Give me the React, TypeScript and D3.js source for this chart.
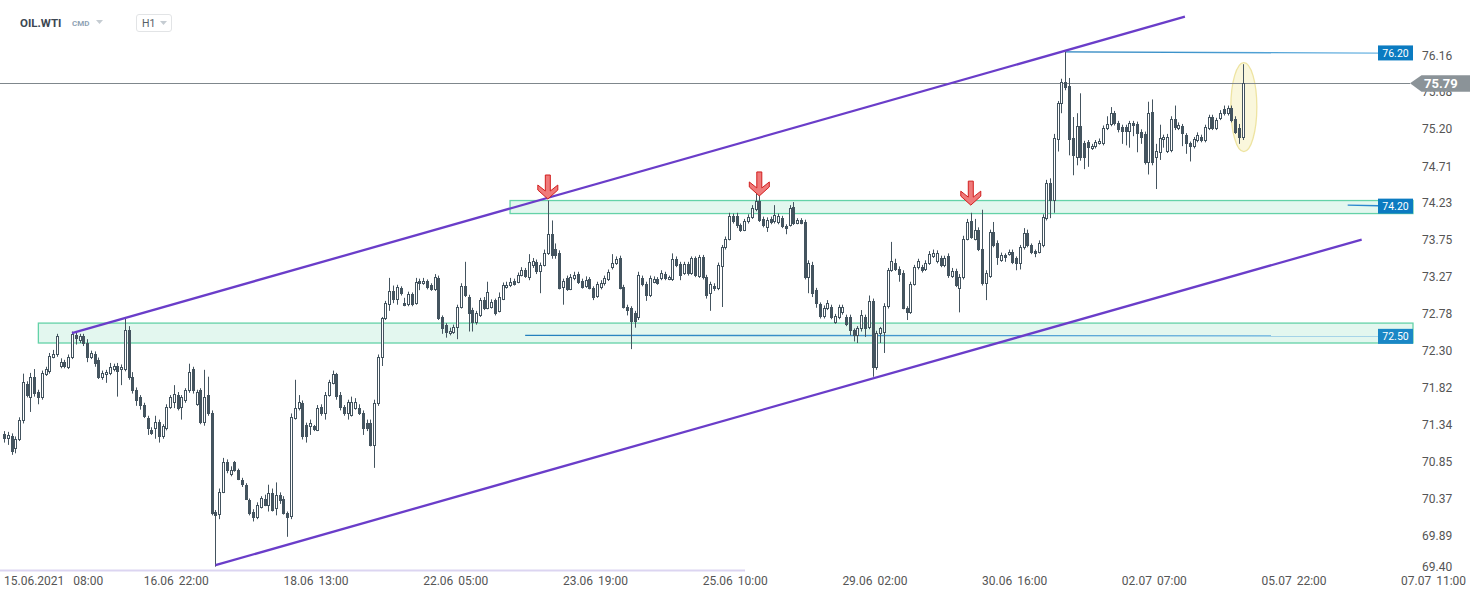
import React from 'react';
import * as d3 from 'd3';

const O = [
71.21,71.16,71.18,71.03,71.15,71.40,71.87,71.69,71.95,71.76,
71.69,72.00,72.04,72.22,72.25,72.10,72.15,72.09,72.22,72.51,
72.44,72.49,72.40,72.22,72.26,72.18,71.95,72.00,72.01,72.06,
72.10,72.06,72.06,72.57,71.96,71.79,71.70,71.59,71.42,71.27,
71.29,71.37,71.18,71.29,71.57,71.63,71.72,71.57,71.65,71.78,
72.06,71.61,71.78,71.37,71.72,71.49,70.20,70.17,70.46,70.85,
70.69,70.84,70.74,70.61,70.55,70.35,70.20,70.13,70.26,70.37,
70.29,70.44,70.25,70.41,70.37,70.18,70.14,71.42,71.55,71.62,
71.33,71.31,71.31,71.27,71.57,71.49,71.72,71.88,71.99,71.72,
71.57,71.49,71.46,71.55,71.55,71.49,71.36,71.36,71.07,71.62,
72.22,72.72,72.91,73.08,72.98,73.12,72.92,72.91,73.04,72.92,
73.21,73.18,73.21,73.16,73.11,73.25,72.74,72.64,72.53,72.55,
72.61,72.87,73.15,73.00,72.83,72.68,72.77,72.96,72.86,72.87,
72.96,72.82,72.98,73.13,73.16,73.21,73.20,73.29,73.35,73.26,
73.42,73.46,73.34,73.42,73.58,73.82,73.63,73.58,73.13,73.25,
73.11,73.25,73.30,73.21,73.15,73.24,73.12,73.02,73.13,73.18,
73.24,73.39,73.45,73.51,73.13,72.87,72.86,72.79,72.74,73.25,
73.17,73.03,73.20,73.24,73.25,73.30,73.24,73.24,73.50,73.43,
73.32,73.43,73.32,73.51,73.28,73.52,73.26,73.05,73.15,73.12,
73.41,73.65,73.76,74.06,74.06,73.94,73.88,73.99,74.05,74.15,
74.26,74.02,73.92,74.02,73.99,73.98,74.03,73.93,73.94,74.18,
73.97,74.01,73.98,73.26,73.42,73.09,72.91,72.75,72.86,72.87,
72.68,72.74,72.81,72.74,72.74,72.57,72.51,72.59,72.74,72.61,
72.95,72.09,72.53,72.55,72.88,73.35,73.45,73.37,73.32,72.86,
72.81,73.17,73.39,73.39,73.37,73.45,73.54,73.47,73.51,73.42,
73.54,73.28,73.34,73.12,73.26,73.76,73.99,73.76,73.88,73.63,
73.18,73.28,73.85,73.71,73.49,73.55,73.56,73.59,73.51,73.45,
73.65,73.84,73.68,73.60,73.59,73.68,74.03,74.49,74.27,75.06,
75.53,75.81,75.76,75.08,74.83,75.23,75.01,75.02,74.95,74.97,
75.01,75.01,75.21,75.26,75.40,75.27,75.22,75.22,75.17,75.27,
75.26,75.16,75.13,74.76,75.42,74.83,74.89,75.06,74.91,74.92,
75.33,75.21,75.23,75.12,75.01,74.97,75.05,75.09,75.05,75.21,
75.35,75.21,75.34,75.46,75.40,75.47,75.33,75.21,75.09
];

const H = [
71.25,71.24,71.22,71.18,71.43,72.00,71.90,72.01,72.06,71.79,
72.04,72.09,72.27,72.31,72.52,72.20,72.18,72.25,72.55,72.55,
72.52,72.52,72.45,72.30,72.29,72.21,72.04,72.05,72.14,72.13,
72.14,72.12,72.72,72.62,72.02,71.82,71.72,71.62,71.45,71.30,
71.45,71.40,71.34,71.60,71.72,71.85,71.76,71.72,71.81,72.13,
72.09,71.79,71.81,72.05,71.96,71.52,70.22,70.50,70.90,70.88,
70.79,70.86,70.76,70.64,70.57,70.37,70.23,70.32,70.40,70.42,
70.55,70.50,70.58,70.45,70.40,70.20,71.48,71.92,71.72,71.65,
71.36,71.40,71.33,71.59,71.60,71.76,71.92,72.04,72.01,71.76,
71.59,71.66,71.70,71.68,71.60,71.52,71.40,71.40,71.66,72.25,
72.74,72.95,73.25,73.15,73.16,73.14,72.99,73.07,73.06,73.25,
73.24,73.25,73.23,73.18,73.30,73.28,72.76,72.66,72.60,72.64,
72.90,73.18,73.46,73.03,72.86,72.82,72.99,73.00,73.20,72.97,
72.98,73.06,73.19,73.20,73.25,73.24,73.32,73.39,73.38,73.56,
73.51,73.49,73.45,73.62,74.26,74.00,73.70,73.61,73.24,73.28,
73.30,73.33,73.33,73.24,73.27,73.26,73.14,73.20,73.22,73.28,
73.36,73.56,73.53,73.54,73.16,72.90,72.88,72.82,73.33,73.28,
73.20,73.28,73.27,73.26,73.35,73.33,73.28,73.57,73.53,73.46,
73.46,73.46,73.53,73.53,73.55,73.55,73.29,73.20,73.18,73.45,
73.68,73.79,74.10,74.09,74.10,73.96,74.02,74.08,74.20,74.40,
74.45,74.05,74.04,74.05,74.20,74.09,74.06,73.95,74.20,74.24,
74.03,74.03,74.01,73.48,73.46,73.12,72.93,72.89,72.96,72.90,
72.78,72.90,72.90,72.77,72.77,72.59,72.62,72.83,72.77,73.02,
72.98,72.56,72.61,72.92,73.38,73.72,73.50,73.40,73.35,72.88,
73.20,73.42,73.50,73.42,73.48,73.60,73.62,73.61,73.54,73.54,
73.57,73.38,73.37,73.30,73.80,74.02,74.10,74.02,73.91,74.14,
73.35,73.88,73.98,73.74,73.58,73.57,73.62,73.62,73.53,73.68,
73.90,73.88,73.70,73.62,73.74,74.08,74.53,74.55,75.13,75.56,
75.85,76.20,75.86,75.35,75.40,75.66,75.04,75.05,75.00,75.05,
75.07,75.24,75.36,75.48,75.43,75.30,75.25,75.25,75.30,75.30,
75.29,75.19,75.16,75.55,75.58,75.00,75.25,75.12,75.13,75.36,
75.50,75.28,75.26,75.14,75.03,75.09,75.15,75.12,75.25,75.38,
75.38,75.34,75.44,75.50,75.50,75.50,75.36,75.26,76.04
];

const L = [
71.10,71.07,70.94,70.96,71.12,71.35,71.69,71.50,71.70,71.60,
71.66,71.97,72.00,72.20,72.22,72.07,72.07,72.06,72.19,72.38,
72.40,72.36,72.15,72.19,72.09,71.93,71.92,71.88,71.98,72.03,
71.70,71.85,72.03,71.92,71.74,71.58,71.53,71.42,71.20,71.20,
71.15,71.10,71.15,71.26,71.54,71.55,71.52,71.40,71.62,71.75,
71.74,71.58,71.34,71.32,71.45,70.15,69.48,70.10,70.44,70.70,
70.66,70.72,70.61,70.52,70.35,70.15,70.07,70.10,70.24,70.27,
70.20,70.20,70.15,70.30,70.16,69.87,70.10,71.40,71.52,71.14,
71.10,71.20,71.25,71.25,71.45,71.40,71.70,71.86,71.66,71.52,
71.45,71.40,71.44,71.53,71.46,71.20,71.25,71.05,70.77,71.58,
72.10,72.70,72.82,72.92,72.90,73.02,72.88,72.88,72.88,72.90,
73.09,73.16,73.10,73.08,73.08,72.70,72.52,72.47,72.50,72.52,
72.45,72.85,73.00,72.55,72.55,72.64,72.74,72.83,72.84,72.85,
72.76,72.80,72.96,73.11,73.13,73.15,73.18,73.27,73.25,73.22,
73.38,73.30,73.05,73.40,73.55,73.50,73.50,73.10,72.90,73.08,
73.09,73.22,73.17,73.11,73.12,73.10,72.96,72.99,73.10,73.15,
73.21,73.36,73.42,73.10,72.85,72.76,72.32,72.60,72.70,73.14,
72.95,73.00,73.18,73.16,73.22,73.22,73.22,73.21,73.39,73.22,
73.29,73.28,73.29,73.26,73.25,73.23,72.98,72.82,73.08,73.09,
72.87,73.62,73.74,73.96,73.90,73.85,73.86,73.96,74.02,74.12,
73.98,73.91,73.85,73.95,73.96,73.95,73.90,73.82,73.92,73.94,
73.95,73.95,73.23,73.05,73.00,72.86,72.72,72.72,72.83,72.71,
72.65,72.71,72.77,72.62,72.50,72.42,72.40,72.55,72.48,72.58,
71.96,72.05,72.40,72.27,72.85,73.33,73.34,73.20,72.84,72.70,
72.78,73.15,73.36,73.32,73.34,73.42,73.51,73.44,73.39,73.39,
73.25,73.25,73.13,72.80,73.23,73.74,73.76,73.74,73.60,73.15,
72.96,73.25,73.65,73.42,73.46,73.46,73.54,73.43,73.35,73.36,
73.62,73.65,73.56,73.52,73.57,73.65,74.00,74.03,74.10,74.90,
75.40,75.70,74.85,74.59,74.72,74.78,74.67,74.70,74.92,74.94,
74.99,74.98,75.18,75.23,75.24,75.15,75.00,74.98,74.95,75.10,
74.89,75.00,74.73,74.60,74.72,74.41,74.79,74.95,74.88,74.89,
75.18,75.18,74.97,74.87,74.77,74.94,75.02,75.02,75.02,75.18,
75.18,75.18,75.31,75.37,75.37,75.28,75.13,75.00,75.05
];

const C = [
71.16,71.20,70.99,71.15,71.40,71.89,71.72,71.95,71.75,71.69,
72.01,72.06,72.23,72.26,72.49,72.15,72.10,72.22,72.52,72.47,
72.49,72.40,72.22,72.27,72.14,71.96,72.01,72.02,72.09,72.10,
72.04,72.09,72.57,71.96,71.78,71.66,71.59,71.45,71.29,71.23,
71.37,71.18,71.31,71.57,71.69,71.74,71.55,71.69,71.78,72.02,
71.78,71.76,71.37,71.70,71.49,70.18,70.16,70.46,70.85,70.74,
70.74,70.74,70.63,70.56,70.37,70.18,70.13,70.29,70.38,70.29,
70.44,70.22,70.42,70.35,70.18,70.13,71.44,71.55,71.63,71.18,
71.18,71.36,71.28,71.55,71.49,71.72,71.89,71.99,71.71,71.57,
71.49,71.63,71.63,71.63,71.49,71.29,71.29,71.07,71.62,72.22,
72.72,72.92,73.08,72.98,73.13,73.05,72.90,73.04,72.91,73.20,
73.18,73.21,73.13,73.11,73.26,72.73,72.60,72.55,72.56,72.61,
72.87,73.15,73.03,72.79,72.68,72.79,72.96,72.86,73.07,72.94,
72.79,73.00,73.16,73.16,73.20,73.17,73.29,73.35,73.28,73.46,
73.47,73.34,73.42,73.58,73.82,73.55,73.55,73.12,73.21,73.11,
73.26,73.29,73.20,73.13,73.22,73.12,73.00,73.17,73.18,73.25,
73.33,73.45,73.50,73.12,72.87,72.83,72.69,72.69,73.29,73.17,
73.03,73.25,73.24,73.18,73.32,73.25,73.26,73.50,73.42,73.29,
73.43,73.32,73.51,73.29,73.52,73.26,73.03,73.17,73.12,73.42,
73.65,73.76,74.06,73.99,73.94,73.88,73.99,74.05,74.16,74.26,
74.01,73.94,74.01,73.98,74.07,74.06,73.93,73.90,74.16,73.97,
74.00,73.97,73.26,73.45,73.05,72.92,72.75,72.86,72.92,72.74,
72.75,72.87,72.87,72.65,72.57,72.51,72.59,72.77,72.60,72.95,
72.09,72.53,72.59,72.88,73.35,73.47,73.37,73.30,72.86,72.81,
73.17,73.39,73.47,73.35,73.45,73.56,73.58,73.58,73.42,73.51,
73.29,73.34,73.16,73.26,73.76,73.98,73.79,73.88,73.63,73.18,
73.32,73.85,73.68,73.52,73.55,73.52,73.59,73.46,73.45,73.65,
73.84,73.68,73.59,73.58,73.71,74.05,74.49,74.27,75.08,75.53,
75.81,75.74,75.06,74.86,75.23,74.83,74.83,74.96,74.97,75.02,
75.04,75.21,75.26,75.40,75.27,75.19,75.17,75.17,75.27,75.25,
75.14,75.09,74.76,75.40,74.76,74.91,75.08,75.09,75.09,75.33,
75.22,75.25,75.14,75.01,74.97,75.06,75.12,75.05,75.22,75.35,
75.21,75.31,75.40,75.40,75.47,75.31,75.16,75.09,75.79
];

const timeLabels = ['15.06.2021 08:00', '16.06 22:00', '18.06 13:00', '22.06 05:00', '23.06 19:00',
  '25.06 10:00', '29.06 02:00', '30.06 16:00', '02.07 07:00', '05.07 22:00'];
const timeLabelIdx = [0, 37, 74, 111, 148, 185, 222, 259, 296, 333];
const endLabel = '07.07 11:00';

const priceTicks = [76.16, 75.68, 75.20, 74.71, 74.23, 73.75, 73.27, 72.78, 72.30, 71.82, 71.34, 70.85, 70.37, 69.89, 69.40];

// support/resistance zones: top, bottom, start candle index
const zoneTop = [74.26, 72.66];
const zoneBottom = [74.09, 72.40];
const zoneStart = [134, 9.1];

// level lines with tags: price, start index
const levelPrice = [76.20, 74.20, 72.50];
const levelStart = [281, 355.8, 138];

// channel lines: [index, price]
const upperChannel = [[18, 72.53], [312.7, 76.66]];
const lowerChannel = [[56, 69.50], [359.5, 73.75]];

const arrowIdx = [144, 200, 256];
const arrowTip = [74.28, 74.32, 74.20];

const lastPrice = 75.79;
const highlight = { idx: 328.3, price: 75.48 };

const FONT = 'Roboto, Arial, sans-serif';
const DARK = '#44545f';

export default function App() {
  const n = C.length;
  const x = d3.scaleLinear().domain([0, n - 1]).range([4, 1242.7]);
  const y = d3.scaleLinear().domain([69.40, 76.16]).range([572.8, 55]);
  const plotRight = 1413;

  const line = d3.line<number[]>().x(d => x(d[0])).y(d => y(d[1]));

  const candles = C.map((c, i) => {
    const o = O[i];
    const up = c >= o;
    const cx = Math.round(x(i)) + 0.5;
    const top = Math.round(y(Math.max(o, c))) + 0.5;
    const bot = Math.round(y(Math.min(o, c))) + 0.5;
    const h = Math.max(bot - top, 1);
    return (
      <g key={i}>
        <line x1={cx} x2={cx} y1={y(H[i])} y2={y(L[i])} stroke={DARK} strokeWidth={1} />
        <rect x={cx - 1} y={top} width={2} height={h} fill={up ? '#ffffff' : DARK} stroke={DARK} strokeWidth={1} />
      </g>
    );
  });

  const arrowPath = (tx: number, ty: number) => {
    const pts = [[0, 0], [-10, -9], [-10, -14], [-2.5, -8], [-2.5, -24], [2.5, -24], [2.5, -8], [10, -14], [10, -9]];
    return pts.map(p => `${tx + p[0]},${ty + p[1]}`).join(' ');
  };

  const yLast = y(lastPrice);

  return (
    <svg width={1482} height={598} style={{ position: 'absolute', left: 0, top: 0, background: '#fff' }} fontFamily={FONT}>
      <defs>
        <linearGradient id="lvlGrad" x1="0" x2="1" y1="0" y2="0">
          <stop offset="0%" stopColor="#2380bd" />
          <stop offset="100%" stopColor="#6cb5e3" />
        </linearGradient>
      </defs>
      <rect x={0} y={0} width={1482} height={598} fill="#ffffff" />

      {/* header */}
      <text x={20} y={27} fontSize={11.5} fontWeight={700} fill="#3c4752">OIL.WTI</text>
      <text x={72} y={26} fontSize={8} fontWeight={700} fill="#8fa3b5">CMD</text>
      <polygon points="96,20 103,20 99.5,24" fill="#c5ccd2" />
      <rect x={136.5} y={14.5} width={35} height={17} rx={2.5} fill="#fff" stroke="#e2e4e6" />
      <text x={142} y={26.5} fontSize={10.5} fill="#555e66">H1</text>
      <polygon points="160,21 167,21 163.5,25" fill="#c5ccd2" />

      {/* zones */}
      {zoneTop.map((t, i) => (
        <rect key={i} x={x(zoneStart[i])} y={y(t)} width={plotRight - x(zoneStart[i])} height={y(zoneBottom[i]) - y(t)}
          fill="#e3f7ef" stroke="#64d2a8" strokeWidth={1.3} />
      ))}

      {/* highlight ellipse */}
      <ellipse cx={x(highlight.idx)} cy={y(highlight.price)} rx={13} ry={44.5} fill="#faf7dc" stroke="#eee4a2" strokeWidth={1.3} />

      {/* last price line */}
      <line x1={0} x2={1410} y1={Math.round(yLast) + 0.5} y2={Math.round(yLast) + 0.5} stroke="#7f878c" strokeWidth={1} />

      {/* level lines */}
      {levelPrice.map((p, i) => (
        <line key={i} x1={x(levelStart[i])} x2={1378} y1={y(p)} y2={y(p) + (i === 0 ? 1.2 : 0.6)}
          stroke={i === 1 ? '#2a88cf' : 'url(#lvlGrad)'} strokeWidth={1.3} />
      ))}

      {/* candles */}
      {candles}

      {/* channel */}
      <path d={line(upperChannel) || ''} stroke="#6a3dc9" strokeWidth={2.3} fill="none" />
      <path d={line(lowerChannel) || ''} stroke="#6a3dc9" strokeWidth={2.3} fill="none" />

      {/* arrows */}
      {arrowIdx.map((a, i) => (
        <polygon key={i} points={arrowPath(x(a), y(arrowTip[i]))} fill="#ef7a7a" stroke="#d21f1f" strokeWidth={1} />
      ))}

      {/* price axis labels */}
      {priceTicks.map((v, i) => (
        <text key={i} x={1422} y={Math.min(y(v), 566) + 4.5} fontSize={12} fill="#555">{v.toFixed(2)}</text>
      ))}

      {/* level tags */}
      {levelPrice.map((p, i) => (
        <g key={i}>
          <rect x={1378} y={y(p) - 6.5} width={35} height={15} fill={i === 2 ? '#1a87c6' : '#0b7bc1'} />
          <text x={1395.5} y={y(p) + 4.8} fontSize={10.5} fill="#fff" textAnchor="middle">{p.toFixed(2)}</text>
        </g>
      ))}

      {/* last price tag */}
      <polygon points={`1410,${yLast} 1421.5,${yLast - 8} 1470,${yLast - 8} 1470,${yLast + 8.5} 1421.5,${yLast + 8.5}`} fill="#8b9398" />
      <text x={1424} y={yLast + 5} fontSize={13} fontWeight={700} fill="#fff">{lastPrice.toFixed(2)}</text>

      {/* navigator line */}
      <line x1={0} x2={745} y1={570.5} y2={570.5} stroke="#dcd5f1" strokeWidth={2} />

      {/* time labels */}
      {timeLabels.map((t, i) => {
        const [d, tm] = t.split(' ');
        return (
          <text key={i} x={x(timeLabelIdx[i])} y={585} fontSize={12} fill="#555">
            <tspan>{d}</tspan>
            <tspan dx={i === 0 ? 9 : 5}>{tm}</tspan>
          </text>
        );
      })}
      <text x={1401} y={585} fontSize={12} fill="#555">
        <tspan>{endLabel.split(' ')[0]}</tspan>
        <tspan dx={5}>{endLabel.split(' ')[1]}</tspan>
      </text>
    </svg>
  );
}
